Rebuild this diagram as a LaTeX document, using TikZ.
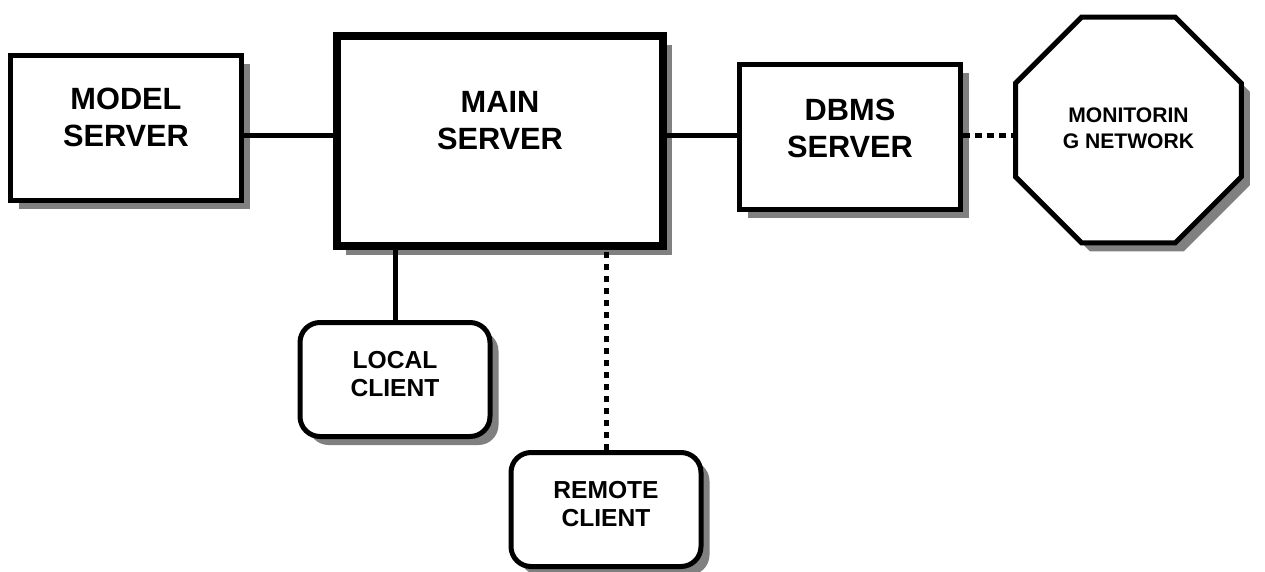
\documentclass[tikz,border=0pt]{standalone}
\usepackage{fontspec}
\setmainfont{Liberation Sans}
\usetikzlibrary{positioning, shapes.geometric, shadows}

\begin{document}
\begin{tikzpicture}[
    node distance=1.4cm,
    boxshadow/.style={general shadow={fill=black!50, shadow xshift=0.17cm, shadow yshift=-0.17cm}},
    server/.style={draw, fill=white, line width=0.1cm, minimum width=4.62cm, minimum height=2.9cm, inner sep=0pt, align=center, font=\fontsize{17.5}{21}\selectfont\bfseries, text height=1.18cm, boxshadow},
    client/.style={server, rounded corners=0.4cm, minimum width=3.8cm, minimum height=2.28cm, font=\fontsize{14}{16}\selectfont\bfseries, text height=0.92cm, text depth=0.24cm},
    monitor/.style={server, regular polygon, regular polygon sides=8, minimum size=4.89cm, font=\fontsize{12}{15}\selectfont\bfseries, text height=0.83cm, text depth=0.08cm},
    link/.style={line width=0.1cm},
    dotline/.style={line width=0.1cm, dash pattern=on 0.13cm off 0.11cm}
]
    \useasboundingbox (0,0) rectangle (25.3,-11.42);

    % Servers
    \node[server, line width=0.16cm, minimum width=6.52cm, minimum height=4.2cm, text depth=0.84cm] (main) at (10,-2.82) {MAIN\\SERVER};
    \node[server, left=1.78cm of main, yshift=0.26cm, text depth=0.44cm] (model) {MODEL\\SERVER};
    \node[server, right=1.4cm of main, yshift=0.08cm, minimum width=4.42cm, text depth=0.36cm] (dbms) {DBMS\\SERVER};
    \node[monitor, right=1cm of dbms, yshift=0.14cm] (monitoring) {MONITORIN\\G NETWORK};

    % Clients
    \node[client, below=1.4cm of main, xshift=-2.1cm] (local) {LOCAL\\CLIENT};
    \node[client, below=4cm of main, xshift=2.12cm] (remote) {REMOTE\\CLIENT};

    % Connections
    \coordinate (bus) at (0,-2.7);
    \draw[link] (model.east |- bus) -- (main.west |- bus);
    \draw[link] (main.east |- bus) -- (dbms.west |- bus);
    \draw[dotline] (dbms.east |- bus) -- (monitoring.west |- bus);
    \draw[link] (local.north) -- (local.north |- main.south);
    \draw[dotline] (remote.north) -- (remote.north |- main.south);
\end{tikzpicture}
\end{document}
